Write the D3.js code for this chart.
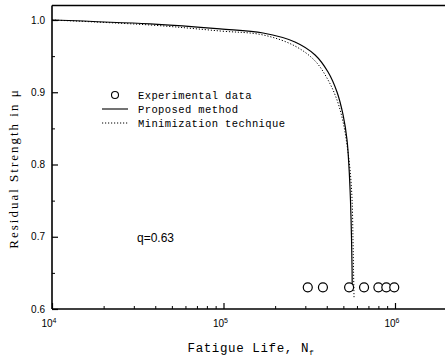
<!DOCTYPE html>
<html>
<head>
<meta charset="utf-8">
<script src="https://cdn.jsdelivr.net/npm/d3@7"></script>
<style>
  body { margin: 0; background: #fff; }
  svg { display: block; }
</style>
</head>
<body>
<svg id="chart" width="445" height="363"></svg>
<script>
// fatigue life (cycles) / residual strength
const proposedN = [1e4, 3.73e4, 9.54e4, 1.70e5, 2.61e5, 3.42e5, 4.07e5, 4.59e5, 4.98e5, 5.25e5, 5.39e5, 5.50e5, 5.58e5, 5.62e5, 5.63e5];
const proposedR = [1.0, 0.9945, 0.9876, 0.982, 0.9696, 0.9516, 0.928, 0.9004, 0.8686, 0.834, 0.7967, 0.751, 0.6957, 0.6542, 0.6252];

const minimN = [1e4, 3.73e4, 9.54e4, 1.70e5, 2.61e5, 3.42e5, 4.07e5, 4.59e5, 4.98e5, 5.25e5, 5.47e5, 5.62e5, 5.69e5, 5.73e5, 5.77e5];
const minimR = [1.0, 0.9931, 0.9848, 0.9793, 0.964, 0.9433, 0.917, 0.8893, 0.8589, 0.8271, 0.7925, 0.751, 0.6957, 0.6542, 0.6155];

const expN = [3.1e5, 3.8e5, 5.4e5, 6.6e5, 8.0e5, 8.9e5, 9.9e5];
const expR = [0.63, 0.63, 0.63, 0.63, 0.63, 0.63, 0.63];

const yTicks = [0.6, 0.7, 0.8, 0.9, 1.0];
const xTicks = [1e4, 1e5, 1e6];
const legendLabels = ["Experimental data", "Proposed method", "Minimization technique"];

const svg = d3.select("#chart");

const x = d3.scaleLog().domain([1e4, 1e7]).range([52, 566.5]);
const y = d3.scaleLinear().domain([0.6, 1.0]).range([309, 20]);

const plot = svg.append("g");

// frame: left, bottom, top (right side is cut off in the original)
plot.append("line").attr("x1", 52).attr("x2", 52).attr("y1", y(1.02)).attr("y2", y(0.6))
  .attr("stroke", "#000").attr("stroke-width", 1.6);
plot.append("line").attr("x1", 52).attr("x2", 445).attr("y1", y(0.6)).attr("y2", y(0.6))
  .attr("stroke", "#000").attr("stroke-width", 1.6);
plot.append("line").attr("x1", 52).attr("x2", 445).attr("y1", y(1.02)).attr("y2", y(1.02))
  .attr("stroke", "#000").attr("stroke-width", 1.6);

// y axis, ticks inside
const yAxis = d3.axisRight(y).tickValues(yTicks).tickSize(6).tickFormat("");
svg.append("g").attr("transform", "translate(52,0)").call(yAxis)
  .call(g => g.select(".domain").remove())
  .call(g => g.selectAll("line").attr("stroke-width", 1.2));
const yMinor = d3.axisRight(y).tickValues([0.65, 0.75, 0.85, 0.95]).tickSize(3).tickFormat("");
svg.append("g").attr("transform", "translate(52,0)").call(yMinor)
  .call(g => g.select(".domain").remove());

svg.append("g").selectAll("text").data(yTicks).join("text")
  .attr("x", 45).attr("y", d => y(d) + 3.5)
  .attr("text-anchor", "end")
  .attr("font-family", "Liberation Sans, Arial, sans-serif")
  .attr("font-size", 10)
  .text(d => d.toFixed(1));

// x axis, ticks inside
const minorX = [];
[1e4, 1e5, 1e6].forEach(dec => { for (let k = 2; k <= 9; k++) minorX.push(dec * k); });
const xAxis = d3.axisTop(x).tickValues(xTicks).tickSize(6).tickFormat("");
svg.append("g").attr("transform", `translate(0,${y(0.6)})`).call(xAxis)
  .call(g => g.select(".domain").remove())
  .call(g => g.selectAll("line").attr("stroke-width", 1.2));
const xMinorAxis = d3.axisTop(x).tickValues(minorX.filter(v => x(v) < 445)).tickSize(3).tickFormat("");
svg.append("g").attr("transform", `translate(0,${y(0.6)})`).call(xMinorAxis)
  .call(g => g.select(".domain").remove());

const xl = svg.append("g").selectAll("text").data(xTicks).join("text")
  .attr("x", d => x(d) - 3).attr("y", 327)
  .attr("text-anchor", "middle")
  .attr("font-family", "Liberation Sans, Arial, sans-serif")
  .attr("font-size", 10);
xl.append("tspan").text("10");
xl.append("tspan").attr("dy", -4).attr("font-size", 7).text(d => Math.round(Math.log10(d)));

// axis titles
svg.append("text")
  .attr("transform", `translate(18,${(y(0.6) + y(1.0)) / 2 + 4}) rotate(-90)`)
  .attr("text-anchor", "middle")
  .attr("font-family", "Liberation Serif, Times New Roman, serif")
  .attr("font-size", 13)
  .attr("letter-spacing", 2)
  .text("Residual Strength in μ");

const xt = svg.append("text")
  .attr("x", 251).attr("y", 352)
  .attr("text-anchor", "middle")
  .attr("font-family", "Liberation Mono, DejaVu Sans Mono, monospace")
  .attr("font-size", 12.5)
  .attr("letter-spacing", 0.6);
xt.append("tspan").text("Fatigue Life, N");
xt.append("tspan").attr("dy", 3).attr("font-size", 8).text("f");

// curves
const line = d3.line().x(d => x(d[0])).y(d => y(d[1])).curve(d3.curveCatmullRom.alpha(0.5));

plot.append("path")
  .datum(d3.zip(minimN, minimR))
  .attr("fill", "none").attr("stroke", "#000").attr("stroke-width", 1)
  .attr("stroke-dasharray", "1.2,1.8")
  .attr("d", line);

plot.append("path")
  .datum(d3.zip(proposedN, proposedR))
  .attr("fill", "none").attr("stroke", "#000").attr("stroke-width", 1.2)
  .attr("d", line);

// experimental points
plot.selectAll("circle.exp").data(d3.zip(expN, expR)).join("circle")
  .attr("class", "exp")
  .attr("cx", d => x(d[0])).attr("cy", d => y(d[1]))
  .attr("r", 4.5)
  .attr("fill", "#fff").attr("stroke", "#000").attr("stroke-width", 1.2);

// legend
const lg = svg.append("g").attr("font-family", "Liberation Mono, DejaVu Sans Mono, monospace")
  .attr("font-size", 10.5).attr("letter-spacing", 0.4);
const rows = [95, 109, 123];
lg.append("circle").attr("cx", 115).attr("cy", rows[0]).attr("r", 3.5)
  .attr("fill", "#fff").attr("stroke", "#000").attr("stroke-width", 1.1);
lg.append("line").attr("x1", 102).attr("x2", 128).attr("y1", rows[1]).attr("y2", rows[1])
  .attr("stroke", "#000").attr("stroke-width", 1.1);
lg.append("line").attr("x1", 102).attr("x2", 128).attr("y1", rows[2]).attr("y2", rows[2])
  .attr("stroke", "#000").attr("stroke-width", 1).attr("stroke-dasharray", "1.2,1.8");
lg.selectAll("text").data(legendLabels).join("text")
  .attr("x", 138).attr("y", (d, i) => rows[i] + 3.5)
  .text(d => d);

svg.append("text")
  .attr("x", 137).attr("y", 242)
  .attr("font-family", "Liberation Sans, Arial, sans-serif")
  .attr("font-size", 12)
  .text("q=0.63");
</script>
</body>
</html>
